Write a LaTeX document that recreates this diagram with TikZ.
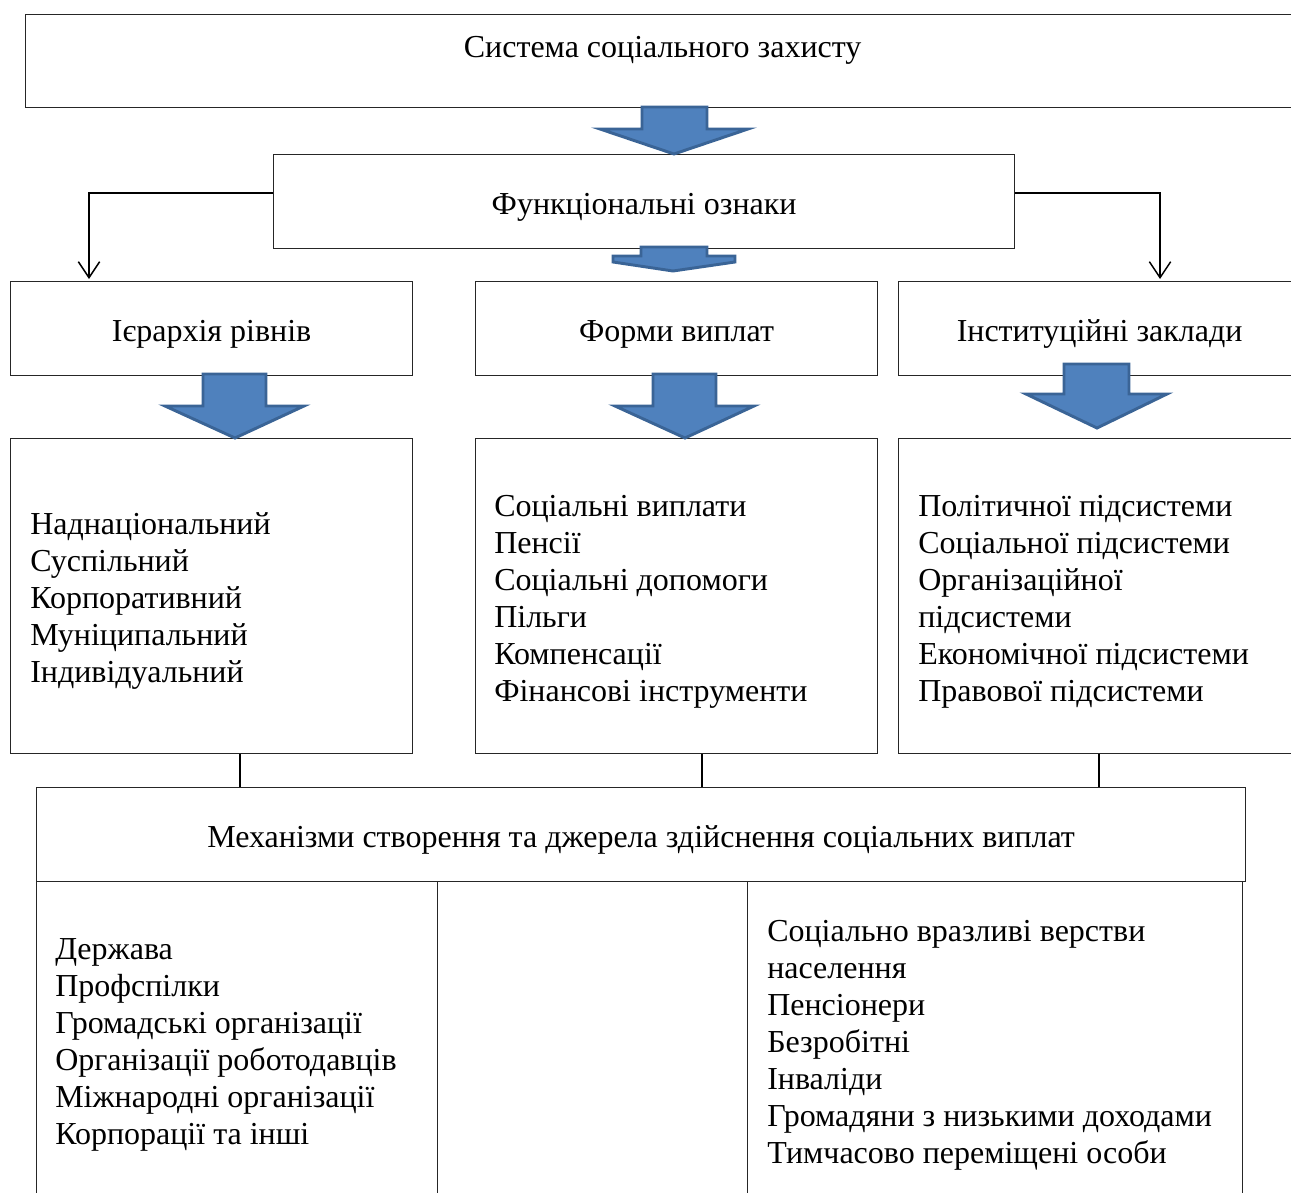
\documentclass[tikz,border=0pt]{standalone}
\usepackage{fontspec}
\setmainfont{Liberation Serif}
\usetikzlibrary{arrows.meta,calc}
\definecolor{arrowblue}{HTML}{4F81BD}
\definecolor{arrowedge}{HTML}{3A6496}
\newcommand\diagfont{\fontsize{24}{27.75}\selectfont}
\begin{document}
\begin{tikzpicture}[x=0.75pt,y=-0.75pt,
  box/.style={draw=black!85, line width=0.95pt, rectangle, inner sep=0pt, anchor=north west, font=\diagfont},
  hdr/.style={text height=19.2pt, text depth=0pt, align=center},
  listtext/.style={anchor=base west, align=left, inner sep=0pt, font=\diagfont},
  blockarrow/.style={fill=arrowblue, draw=arrowedge, line width=2.2pt, line join=miter},
  link/.style={draw=black, line width=1.2pt},
  elbow/.style={draw=black, line width=1.1pt, -{Straight Barb[length=12pt,width=16pt]}}]
\useasboundingbox (0,0) rectangle (1291,1192);
\clip (0,0) rectangle (1291,1192);

% boxes
\node[box, hdr, minimum width=955.5pt, minimum height=69.75pt, text height=6pt, text depth=11.25pt] (top) at (25,14) {Система соціального захисту};
\node[box, hdr, minimum width=555.75pt, minimum height=70.5pt] (func) at (273,154) {Функціональні ознаки};
\node[box, hdr, minimum width=301.5pt, minimum height=70.5pt] (h1) at (10,281) {Ієрархія рівнів};
\node[box, hdr, minimum width=301.5pt, minimum height=70.5pt] (h2) at (475,281) {Форми виплат};
\node[box, hdr, minimum width=301.5pt, minimum height=70.5pt] (h3) at (898,281) {Інституційні заклади};
\node[box, minimum width=301.5pt, minimum height=236.25pt] (l1) at (10,438) {};
\node[box, minimum width=301.5pt, minimum height=236.25pt] (l2) at (475,438) {};
\node[box, minimum width=301.5pt, minimum height=236.25pt] (l3) at (898,438) {};
\node[box, hdr, minimum width=906.75pt, minimum height=70.5pt] (mech) at (36,787) {Механізми створення та джерела здійснення соціальних виплат};
\node[box, minimum width=300.75pt, minimum height=247.5pt] (b1) at (36,881) {};
\node[box, minimum width=232.5pt, minimum height=247.5pt] (b2) at (437,881) {};
\node[box, minimum width=371.25pt, minimum height=247.5pt] (b3) at (747,881) {};

% list texts (anchor base = baseline of the last line)
\node[listtext] (t1) at ($(l1.north west)+(20,244)$) {Наднаціональний\\Суспільний\\Корпоративний\\Муніципальний\\Індивідуальний};
\node[listtext] (t2) at ($(l2.north west)+(19,263)$) {Соціальні виплати\\Пенсії\\Соціальні допомоги\\Пільги\\Компенсації\\Фінансові інструменти};
\node[listtext] (t3) at ($(l3.north west)+(20,263)$) {Політичної підсистеми\\Соціальної підсистеми\\Організаційної\\підсистеми\\Економічної підсистеми\\Правової підсистеми};
\node[listtext] (t4) at ($(b1.north west)+(19,263)$) {Держава\\Профспілки\\Громадські організації\\Організації роботодавців\\Міжнародні організації\\Корпорації та інші};
\node[listtext] (t5) at ($(b3.north west)+(20,282)$) {Соціально вразливі верстви\\населення\\Пенсіонери\\Безробітні\\Інваліди\\Громадяни з низькими доходами\\Тимчасово переміщені особи};

% elbow connectors
\draw[elbow] ($(func.north west)+(0,39)$) -| ($(h1.north west)+(79,-2)$);
\draw[elbow] ($(func.north east)+(0,39)$) -| ($(h3.north west)+(262,-2)$);

% vertical links
\coordinate (c1) at ($(l1.south west)+(230,0)$);
\coordinate (c2) at ($(l2.south west)+(227,0)$);
\coordinate (c3) at ($(l3.south west)+(201,0)$);
\draw[link] (c1) -- (c1 |- mech.north);
\draw[link] (c2) -- (c2 |- mech.north);
\draw[link] (c3) -- (c3 |- mech.north);

% block arrows
\draw[blockarrow] (642,107) -- (707,107) -- (707,129) -- (748,129) -- (674,154) -- (600,129) -- (642,129) -- cycle;
\draw[blockarrow] (641,247) -- (707,247) -- (707,256) -- (735,256) -- (735,262) -- (673,271) -- (613,262) -- (613,256) -- (641,256) -- cycle;
\draw[blockarrow] (203,374) -- (266,374) -- (266,406) -- (304,406) -- (235,438) -- (165,406) -- (203,406) -- cycle;
\draw[blockarrow] (653,374) -- (716,374) -- (716,406) -- (754,406) -- (685,438) -- (615,406) -- (653,406) -- cycle;
\draw[blockarrow] (1064,364) -- (1129,364) -- (1129,394) -- (1167,394) -- (1097,428) -- (1026,394) -- (1064,394) -- cycle;
\end{tikzpicture}
\end{document}
